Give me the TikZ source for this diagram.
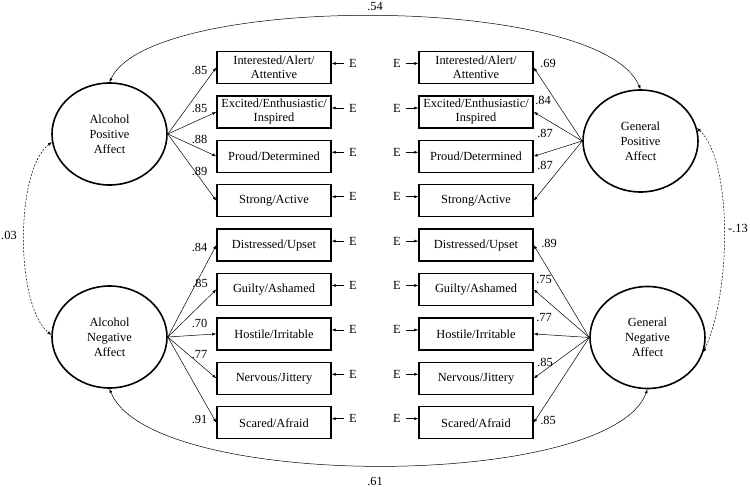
\documentclass[tikz,border=0pt]{standalone}
\usepackage{fontspec}
\setmainfont{Liberation Serif}
\usetikzlibrary{arrows.meta,shapes.geometric}
\begin{document}
\begin{tikzpicture}[x=1pt,y=-1pt,
  font=\fontsize{12.4}{14}\selectfont,
  lat/.style={draw,ellipse,line width=1.6pt,minimum width=115pt,minimum height=102pt,align=center,inner sep=0pt,font=\fontsize{12.4}{15}\selectfont},
  ind/.style={draw,rectangle,line width=1.4pt,minimum width=114pt,minimum height=32pt,align=center,inner sep=1pt},
  errL/.style={inner xsep=5pt,inner ysep=0pt},
  errR/.style={inner xsep=5pt,inner ysep=0pt},
  arr/.style={-{Latex[length=4pt,width=3pt]},line width=0.5pt},
  cov/.style={{Latex[length=4pt,width=3pt]}-{Latex[length=4pt,width=3pt]},line width=0.5pt},
  covd/.style={cov,dashed,dash pattern=on 2pt off 1.5pt},
  lab/.style={inner sep=0pt}
]
\path[use as bounding box,fill=white] (0,0) rectangle (750,487);

% latent variables
\node[lat] (ap) at (109.5,134) {Alcohol\\Positive\\Affect};
\node[lat] (an) at (109.5,337) {Alcohol\\Negative\\Affect};
\node[lat] (gp) at (640.5,141) {General\\Positive\\Affect};
\node[lat] (gn) at (647.5,337.5) {General\\Negative\\Affect};

% left indicators
\node[ind] (bL1) at (274,67.5) {Interested/Alert/\\Attentive};
\node[ind] (bL2) at (274,112) {Excited/Enthusiastic/\\Inspired};
\node[ind] (bL3) at (274,156.3) {Proud/Determined};
\node[ind] (bL4) at (274,200.7) {Strong/Active};
\node[ind] (bL5) at (274,245.1) {Distressed/Upset};
\node[ind] (bL6) at (274,289.5) {Guilty/Ashamed};
\node[ind] (bL7) at (274,333.9) {Hostile/Irritable};
\node[ind] (bL8) at (274,378.3) {Nervous/Jittery};
\node[ind] (bL9) at (274,422.7) {Scared/Afraid};

% right indicators
\node[ind] (bR1) at (476,67.5) {Interested/Alert/\\Attentive};
\node[ind] (bR2) at (476,112) {Excited/Enthusiastic/\\Inspired};
\node[ind] (bR3) at (476,156.3) {Proud/Determined};
\node[ind] (bR4) at (476,200.7) {Strong/Active};
\node[ind] (bR5) at (476,245.1) {Distressed/Upset};
\node[ind] (bR6) at (476,289.5) {Guilty/Ashamed};
\node[ind] (bR7) at (476,333.9) {Hostile/Irritable};
\node[ind] (bR8) at (476,378.3) {Nervous/Jittery};
\node[ind] (bR9) at (476,422.7) {Scared/Afraid};

% error terms
\node[errL] (eL1) at (353,63.5) {E};
\node[errL] (eL2) at (353,108) {E};
\node[errL] (eL3) at (353,152.3) {E};
\node[errL] (eL4) at (353,196.7) {E};
\node[errL] (eL5) at (353,241.1) {E};
\node[errL] (eL6) at (353,285.5) {E};
\node[errL] (eL7) at (353,329.9) {E};
\node[errL] (eL8) at (353,374.3) {E};
\node[errL] (eL9) at (353,418.7) {E};
\node[errR] (eR1) at (397,63.5) {E};
\node[errR] (eR2) at (397,108) {E};
\node[errR] (eR3) at (397,152.3) {E};
\node[errR] (eR4) at (397,196.7) {E};
\node[errR] (eR5) at (397,241.1) {E};
\node[errR] (eR6) at (397,285.5) {E};
\node[errR] (eR7) at (397,329.9) {E};
\node[errR] (eR8) at (397,374.3) {E};
\node[errR] (eR9) at (397,418.7) {E};

\foreach \i in {1,...,9}{
  \draw[arr] (eL\i) -- (eL\i -| bL\i.east);
  \draw[arr] (eR\i) -- (eR\i -| bR\i.west);
}

% loadings
\foreach \i in {1,...,4}{
  \draw[arr] (ap.east) -- (bL\i.west);
  \draw[arr] (gp.west) -- (bR\i.east);
}
\foreach \i in {5,...,9}{
  \draw[arr] (an.east) -- (bL\i.west);
  \draw[arr] (gn.west) -- (bR\i.east);
}

% loading labels
\node[lab] at (199.5,70) {.85};
\node[lab] at (199.5,108) {.85};
\node[lab] at (199.5,139) {.88};
\node[lab] at (199.5,171) {.89};
\node[lab] at (199.5,247) {.84};
\node[lab] at (200,283) {.85};
\node[lab] at (199.5,323) {.70};
\node[lab] at (199.5,355) {.77};
\node[lab] at (199.5,419) {.91};

\node[lab] at (548,63) {.69};
\node[lab] at (543,100) {.84};
\node[lab] at (545,133) {.87};
\node[lab] at (545,165) {.87};
\node[lab] at (549,243) {.89};
\node[lab] at (544,280) {.75};
\node[lab] at (544,318) {.77};
\node[lab] at (545,362) {.85};
\node[lab] at (548,420) {.85};

% covariances
\draw[cov] (ap.north) .. controls (150,-7) and (600,-7) .. (gp.north);
\draw[cov] (an.south) .. controls (150,491) and (610,491) .. (gn.south);
\draw[covd] (ap.188) .. controls (15,170) and (15,305) .. (an.178);
\draw[covd] (gp.13) .. controls (732,160) and (732,290) .. (gn.-15);

\node[lab] (c54) at (375,7) {.54};
\node[lab] (c61) at (375,481) {.61};
\node[lab] (c03) at (9,235) {.03};
\node[lab] (c13) at (738,228) {-.13};
\end{tikzpicture}
\end{document}
